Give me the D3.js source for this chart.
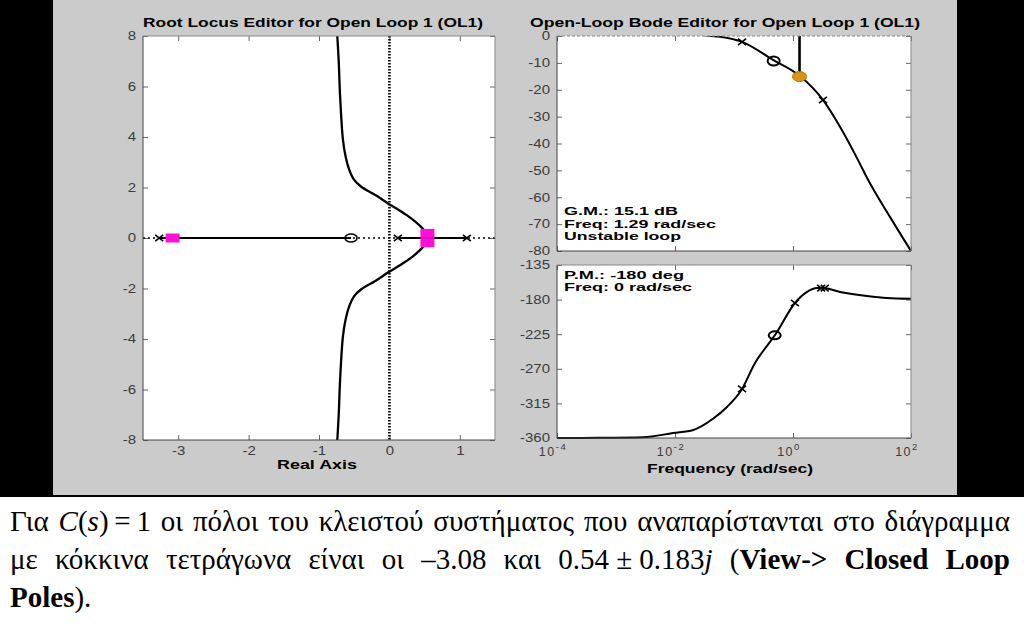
<!DOCTYPE html>
<html><head><meta charset="utf-8">
<script src="https://cdn.jsdelivr.net/npm/d3@7"></script>
<style>body{margin:0;background:#fff}svg{display:block}</style>
</head><body>
<svg id="c" width="1024" height="636"></svg>
<script>
// ---------------- DATA ----------------
// Root locus
const rlXLim = [-3.5, 1.5];
const rlYLim = [-8, 8];
const rlXTicks = [-3, -2, -1, 0, 1];
const rlYTicks = [-8, -6, -4, -2, 0, 2, 4, 6, 8];
const rlBranchRe = [-0.74, -0.72, -0.70, -0.66, -0.62, -0.57, -0.50, -0.40, -0.20, -0.02, 0.15, 0.30, 0.42, 0.48, 0.52, 0.53];
const rlBranchIm = [8.0, 7.0, 5.6, 3.9, 3.2, 2.7, 2.3, 2.03, 1.7, 1.37, 1.08, 0.80, 0.52, 0.35, 0.18, 0.0];
const rlRealSegStart = [-3.27, 0.12];
const rlRealSegEnd = [-0.545, 1.10];
const olPolesRe = [-3.27, 0.12, 1.10];
const olZerosRe = [-0.545];
const clPolesRe = [-3.08, 0.54, 0.54];
const clPolesIm = [0, 0.183, -0.183];

// Bode
const freqLim = [1e-4, 1e2];
const freqTickExp = [-4, -2, 0, 2];
const magLim = [-80, 0];
const magTicks = [0, -10, -20, -30, -40, -50, -60, -70, -80];
const phaseLim = [-360, -135];
const phaseTicks = [-135, -180, -225, -270, -315, -360];
const magFreq = [0.02, 0.0348, 0.058, 0.137, 0.458, 1.31, 3.22, 6.26, 12.6, 18.7, 44, 100];
const magDb   = [0.8, 0.2, -0.3, -2.2, -8.9, -14.9, -23.8, -33.8, -46.1, -53.5, -67.3, -80];
const phFreq = [1e-4, 5e-4, 0.0029, 0.0093, 0.0204, 0.044, 0.076, 0.137, 0.227, 0.408, 0.496, 1.08, 1.73, 2.55, 3.22, 6.3, 17.9, 39, 100];
const phDeg  = [-360, -359.8, -359, -353.5, -349.6, -335, -319.6, -296.2, -262.4, -235, -226, -184.4, -170, -165, -165, -170, -175.3, -178, -179];
const magPoleFreq = [0.137, 3.22];
const magPoleDb = [-2.2, -23.8];
const magZeroFreq = [0.47];
const magZeroDb = [-9.3];
const phPoleFreq = [0.137, 1.08, 3.0, 3.45];
const phPoleDeg = [-296.2, -184.4, -165, -165];
const phZeroFreq = [0.49];
const phZeroDeg = [-226.5];
const gmFreq = 1.29, gmDb = -15.1;
const gmLines = ["G.M.: 15.1 dB", "Freq: 1.29 rad/sec", "Unstable loop"];
const pmLines = ["P.M.: -180 deg", "Freq: 0 rad/sec"];
const rlTitle = "Root Locus Editor for Open Loop 1 (OL1)";
const bodeTitle = "Open-Loop Bode Editor for Open Loop 1 (OL1)";

// ---------------- DRAW ----------------
const svg = d3.select("#c");
svg.append("rect").attr("width", 1024).attr("height", 636).attr("fill", "#fff");
svg.append("rect").attr("x", 0).attr("y", 0).attr("width", 1024).attr("height", 497).attr("fill", "#000");
svg.append("rect").attr("x", 53).attr("y", 0).attr("width", 904).attr("height", 495).attr("fill", "#cbcbcb");

const tickCol = "#3c3c3c";
const sans = "'Liberation Sans', Arial, sans-serif";
const STRETCH = 1.25;

// widen text glyphs horizontally (reference is horizontally stretched)
function widen(sel, k) {
  sel.each(function () {
    const w = this.getComputedTextLength();
    if (w > 0) d3.select(this).attr("textLength", w * k).attr("lengthAdjust", "spacingAndGlyphs");
  });
}
function frame(g, x0, x1, y0, y1) {
  g.append("rect").attr("x", x0).attr("y", y0).attr("width", x1 - x0).attr("height", y1 - y0).attr("fill", "#fff");
}
function border(g, x0, x1, y0, y1, topDash) {
  g.append("line").attr("x1", x0).attr("x2", x0).attr("y1", y0).attr("y2", y1).attr("stroke", "#444").attr("stroke-width", 1);
  g.append("line").attr("x1", x0).attr("x2", x1).attr("y1", y1).attr("y2", y1).attr("stroke", "#444").attr("stroke-width", 1);
  g.append("line").attr("x1", x1).attr("x2", x1).attr("y1", y0).attr("y2", y1).attr("stroke", "#888").attr("stroke-width", 1);
  g.append("line").attr("x1", x0).attr("x2", x1).attr("y1", y0).attr("y2", y0).attr("stroke", "#888").attr("stroke-width", 1)
    .attr("stroke-dasharray", topDash ? "3,2" : null);
}
function xMark(g, cx, cy, s) {
  g.append("path").attr("d", `M${cx - s},${cy - s * 0.8}L${cx + s},${cy + s * 0.8}M${cx - s},${cy + s * 0.8}L${cx + s},${cy - s * 0.8}`)
    .attr("stroke", "#000").attr("stroke-width", 1.6).attr("fill", "none");
}
function label(g, x, y, txt, size, w, anchor) {
  return g.append("text").attr("x", x).attr("y", y).attr("text-anchor", anchor || "middle").attr("font-family", sans)
    .attr("font-weight", "bold").attr("font-size", size).attr("fill", "#000")
    .attr("textLength", w).attr("lengthAdjust", "spacingAndGlyphs").text(txt);
}

const axStyle = (sel) => {
  sel.select(".domain").remove();
  sel.selectAll("line").attr("stroke", "#666");
  sel.selectAll("text").attr("fill", tickCol).attr("font-family", sans).attr("font-size", 12);
  widen(sel.selectAll("text"), STRETCH);
};

// ---- Root locus ----
const RL = { x0: 143, x1: 495, y0: 36, y1: 440 };
const xR = d3.scaleLinear().domain(rlXLim).range([RL.x0, RL.x1]);
const yI = d3.scaleLinear().domain(rlYLim).range([RL.y1, RL.y0]);
const gR = svg.append("g");
frame(gR, RL.x0, RL.x1, RL.y0, RL.y1);

gR.append("g").attr("transform", `translate(0,${RL.y1})`)
  .call(d3.axisBottom(xR).tickValues(rlXTicks).tickSize(-5).tickPadding(6).tickFormat(d => String(d))).call(axStyle);
gR.append("g").attr("transform", `translate(0,${RL.y0})`)
  .call(d3.axisTop(xR).tickValues(rlXTicks).tickSize(-5).tickFormat("")).call(axStyle);
gR.append("g").attr("transform", `translate(${RL.x0},0)`)
  .call(d3.axisLeft(yI).tickValues(rlYTicks).tickSize(-5).tickPadding(7).tickFormat(d => String(d))).call(axStyle);
gR.append("g").attr("transform", `translate(${RL.x1},0)`)
  .call(d3.axisRight(yI).tickValues(rlYTicks).tickSize(-5).tickFormat("")).call(axStyle);

// dotted axes
gR.append("line").attr("x1", RL.x0).attr("x2", RL.x1).attr("y1", yI(0)).attr("y2", yI(0))
  .attr("stroke", "#000").attr("stroke-width", 1.6).attr("stroke-dasharray", "2,3");
gR.append("line").attr("x1", xR(0)).attr("x2", xR(0)).attr("y1", RL.y0).attr("y2", RL.y1)
  .attr("stroke", "#000").attr("stroke-width", 2.6).attr("stroke-dasharray", "1.5,1.5");

// real-axis locus segments
rlRealSegStart.forEach((s, i) => {
  gR.append("line").attr("x1", xR(s)).attr("x2", xR(rlRealSegEnd[i])).attr("y1", yI(0)).attr("y2", yI(0))
    .attr("stroke", "#000").attr("stroke-width", 2);
});
// complex branches
const lineRL = d3.line().x(d => xR(d[0])).y(d => yI(d[1])).curve(d3.curveCatmullRom.alpha(0.5));
const upper = rlBranchRe.map((r, i) => [r, rlBranchIm[i]]);
const lower = rlBranchRe.map((r, i) => [r, -rlBranchIm[i]]);
[upper, lower].forEach(b => gR.append("path").attr("d", lineRL(b)).attr("fill", "none").attr("stroke", "#000").attr("stroke-width", 2.3));

// open-loop markers
olPolesRe.forEach(p => xMark(gR, xR(p), yI(0), 4));
olZerosRe.forEach(z => gR.append("ellipse").attr("cx", xR(z)).attr("cy", yI(0)).attr("rx", 6).attr("ry", 4)
  .attr("fill", "none").attr("stroke", "#000").attr("stroke-width", 1.6));
// closed-loop poles
clPolesRe.forEach((r, i) => gR.append("rect").attr("x", xR(r) - 7).attr("y", yI(clPolesIm[i]) - 4.5)
  .attr("width", 14).attr("height", 9).attr("fill", "#ff10d8"));
border(gR, RL.x0, RL.x1, RL.y0, RL.y1, false);

label(gR, 313, 27, rlTitle, 12.5, 340);
label(gR, 317, 469, "Real Axis", 12.5, 80);

// ---- Bode ----
const BX = { x0: 557, x1: 911 };
const MG = { y0: 36, y1: 251 };
const PH = { y0: 265, y1: 438 };
const bx = d3.scaleLog().domain(freqLim).range([BX.x0, BX.x1]);
const by = d3.scaleLinear().domain(magLim).range([MG.y1, MG.y0]);
const py = d3.scaleLinear().domain(phaseLim).range([PH.y1, PH.y0]);
const freqTicks = freqTickExp.map(e => Math.pow(10, e));
const gB = svg.append("g");

[[MG, by, magTicks], [PH, py, phaseTicks]].forEach(([A, sc, ticks]) => {
  frame(gB, BX.x0, BX.x1, A.y0, A.y1);
  gB.append("g").attr("transform", `translate(0,${A.y1})`)
    .call(d3.axisBottom(bx).tickValues(freqTicks).tickSize(-5).tickFormat("")).call(axStyle);
  gB.append("g").attr("transform", `translate(0,${A.y0})`)
    .call(d3.axisTop(bx).tickValues(freqTicks).tickSize(-5).tickFormat("")).call(axStyle);
  gB.append("g").attr("transform", `translate(${BX.x0},0)`)
    .call(d3.axisLeft(sc).tickValues(ticks).tickSize(-5).tickPadding(7).tickFormat(d => String(d))).call(axStyle);
  gB.append("g").attr("transform", `translate(${BX.x1},0)`)
    .call(d3.axisRight(sc).tickValues(ticks).tickSize(-5).tickFormat("")).call(axStyle);
});

// clip for magnitude
svg.append("defs").append("clipPath").attr("id", "magclip").append("rect")
  .attr("x", BX.x0).attr("y", MG.y0).attr("width", BX.x1 - BX.x0).attr("height", MG.y1 - MG.y0);
const lineMag = d3.line().x(d => bx(d[0])).y(d => by(d[1])).curve(d3.curveMonotoneX);
gB.append("path").attr("clip-path", "url(#magclip)").attr("d", lineMag(magFreq.map((f, i) => [f, magDb[i]])))
  .attr("fill", "none").attr("stroke", "#000").attr("stroke-width", 2);
const linePh = d3.line().x(d => bx(d[0])).y(d => py(d[1])).curve(d3.curveMonotoneX);
gB.append("path").attr("d", linePh(phFreq.map((f, i) => [f, phDeg[i]])))
  .attr("fill", "none").attr("stroke", "#000").attr("stroke-width", 2);

// markers
magPoleFreq.forEach((f, i) => xMark(gB, bx(f), by(magPoleDb[i]), 4));
magZeroFreq.forEach((f, i) => gB.append("ellipse").attr("cx", bx(f)).attr("cy", by(magZeroDb[i])).attr("rx", 6).attr("ry", 4.5)
  .attr("fill", "none").attr("stroke", "#000").attr("stroke-width", 2));
phPoleFreq.forEach((f, i) => xMark(gB, bx(f), py(phPoleDeg[i]), 4));
phZeroFreq.forEach((f, i) => gB.append("ellipse").attr("cx", bx(f)).attr("cy", py(phZeroDeg[i])).attr("rx", 6).attr("ry", 4)
  .attr("fill", "none").attr("stroke", "#000").attr("stroke-width", 2));

// gain margin indicator
gB.append("line").attr("x1", bx(gmFreq)).attr("x2", bx(gmFreq)).attr("y1", by(0)).attr("y2", by(gmDb))
  .attr("stroke", "#000").attr("stroke-width", 2.6);
gB.append("ellipse").attr("cx", bx(gmFreq)).attr("cy", by(gmDb)).attr("rx", 7).attr("ry", 5)
  .attr("fill", "#d9930f").attr("stroke", "#b0730a").attr("stroke-width", 1);

border(gB, BX.x0, BX.x1, MG.y0, MG.y1, true);
border(gB, BX.x0, BX.x1, PH.y0, PH.y1, false);

// freq tick labels
freqTicks.forEach((f, i) => {
  const t = gB.append("text").attr("x", bx(f) - 4).attr("y", 456).attr("text-anchor", "middle")
    .attr("font-family", sans).attr("font-size", 12.5).attr("fill", tickCol).attr("letter-spacing", 1.5);
  t.append("tspan").text("10");
  t.append("tspan").attr("dy", -6).attr("font-size", 9.5).text(String(freqTickExp[i]));
});
label(gB, 730, 473, "Frequency (rad/sec)", 12.5, 166);
label(gB, 725, 27, bodeTitle, 12.5, 390);

const gmW = [114, 152, 117];
const pmW = [120, 128];
gmLines.forEach((s, i) => label(gB, 564, 215 + i * 12.7, s, 10.8, gmW[i], "start"));
pmLines.forEach((s, i) => label(gB, 564, 279 + i * 12.3, s, 10.8, pmW[i], "start"));

// ---- Caption text (Greek) ----
const serif = "'Liberation Serif', 'Times New Roman', serif";
const capSize = 29;
// each word: array of [text, style] segments ; style: n normal, i italic, b bold
const capLine1 = [[["Για", "n"]], [["C", "i"], ["(", "n"], ["s", "i"], [")\u2009=\u20091", "n"]], [["οι", "n"]], [["πόλοι", "n"]], [["του", "n"]],
  [["κλειστού", "n"]], [["συστήματος", "n"]], [["που", "n"]], [["αναπαρίστανται", "n"]], [["στο", "n"]], [["διάγραμμα", "n"]]];
const capLine2 = [[["με", "n"]], [["κόκκινα", "n"]], [["τετράγωνα", "n"]], [["είναι", "n"]], [["οι", "n"]], [["\u20133.08", "n"]],
  [["και", "n"]], [["0.54 ± 0.183", "n"], ["j", "i"]], [["(", "n"], ["View->", "b"]], [["Closed", "b"]], [["Loop", "b"]]];
const capLine3 = [[["Poles", "b"], [").", "n"]]];
const capLines = [capLine1, capLine2, capLine3];
const capBaselines = [531, 569, 607];
const capJustify = [true, true, false];
const gC = svg.append("g");
capLines.forEach((words, li) => {
  const els = words.map(segs => {
    const t = gC.append("text").attr("y", capBaselines[li]).attr("font-family", serif).attr("font-size", capSize).attr("fill", "#000");
    segs.forEach(([s, st]) => t.append("tspan").attr("font-style", st === "i" ? "italic" : "normal")
      .attr("font-weight", st === "b" ? "bold" : "normal").text(s));
    return t;
  });
  const widths = els.map(e => e.node().getComputedTextLength());
  const sum = d3.sum(widths);
  const left = 10, right = 1010;
  let sc = 1, gap = 7.5;
  if (capJustify[li]) {
    const minGap = 7;
    sc = Math.min(1, (right - left - minGap * (els.length - 1)) / sum);
    gap = (right - left - sum * sc) / (els.length - 1);
  }
  let x = left;
  els.forEach((e, i) => {
    e.attr("x", x);
    if (sc < 1) e.attr("textLength", widths[i] * sc).attr("lengthAdjust", "spacingAndGlyphs");
    x += widths[i] * sc + gap;
  });
});
</script>
</body></html>
